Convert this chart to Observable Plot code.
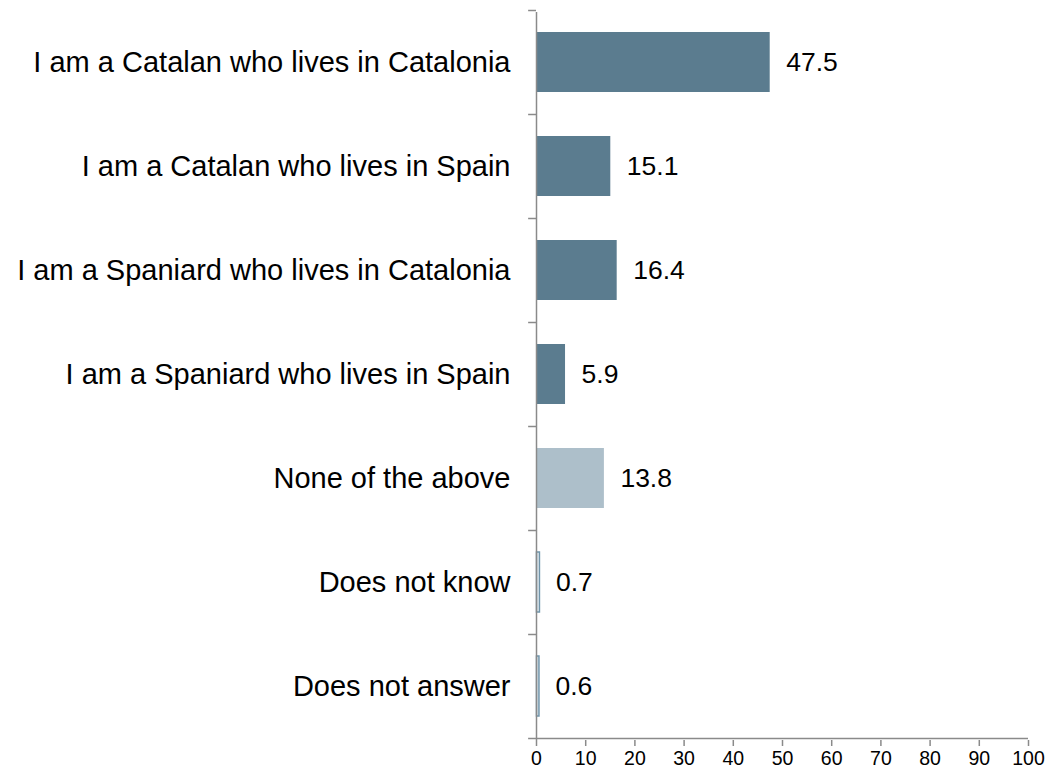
<!DOCTYPE html>
<html><head><meta charset="utf-8">
<script src="https://cdn.jsdelivr.net/npm/d3@7"></script>
<script src="https://cdn.jsdelivr.net/npm/@observablehq/plot@0.6"></script>
<style>body{margin:0;background:#fff;font-family:"Liberation Sans",Arial,sans-serif}</style>
</head><body><div id="chart"></div>
<script>
const categories = [
  "I am a Catalan who lives in Catalonia",
  "I am a Catalan who lives in Spain",
  "I am a Spaniard who lives in Catalonia",
  "I am a Spaniard who lives in Spain",
  "None of the above",
  "Does not know",
  "Does not answer"
];
const values = [47.5, 15.1, 16.4, 5.9, 13.8, 0.7, 0.6];
const groups = ["main","main","main","main","none","nr","nr"];
const labels = ["47.5","15.1","16.4","5.9","13.8","0.7","0.6"];
const xTicks = [0,10,20,30,40,50,60,70,80,90,100];

const data = categories.map((c,i)=>({cat:c, value:values[i], group:groups[i], label:labels[i]}));
const fills = {main:"#5b7c8f", none:"#adbfca", nr:"#f0f5f8"};
const strokes = {main:"none", none:"none", nr:"#7095ab"};

const W = 1049, H = 774, mt = 12, mb = 34, ml = 536, mr = 21;
const step = (H - mt - mb) / categories.length;
const axisColor = "#8a8a8a";
const last = categories[categories.length-1];

const chart = Plot.plot({
  width: W, height: H,
  marginLeft: ml, marginRight: mr, marginTop: mt, marginBottom: mb,
  style: {fontFamily: "'Liberation Sans', Arial, sans-serif", background: "#fff", color: "#000"},
  x: {domain: [0,100], ticks: xTicks, label: null},
  y: {domain: categories, paddingInner: 0.42, paddingOuter: 0.21, align: 0.45, label: null},
  marks: [
    Plot.barX(data, {y: "cat", x: "value", fill: d => fills[d.group], stroke: d => strokes[d.group], strokeWidth: 1.5, insetLeft: 0.5}),
    Plot.ruleX([0], {stroke: axisColor, strokeWidth: 1.5}),
    Plot.ruleY(categories, {y: d => d, x1: -1.6, x2: 0, dy: -step/2, stroke: axisColor, strokeWidth: 1.5}),
    Plot.ruleY([last], {y: d => d, x1: -1.6, x2: 100, dy: step/2, stroke: axisColor, strokeWidth: 1.5}),
    Plot.axisX({ticks: xTicks, tickSize: 6, tickPadding: 5, fontSize: 19.5, stroke: axisColor, strokeWidth: 1.5, color: "#000", label: null}),
    Plot.axisY({tickSize: 0, tickPadding: 26, fontSize: 29, label: null}),
    Plot.text(data, {y: "cat", x: "value", text: "label", textAnchor: "start", dx: 16, fontSize: 26.5, fill: "#000"})
  ]
});
document.getElementById("chart").appendChild(chart);
</script>
</body></html>
